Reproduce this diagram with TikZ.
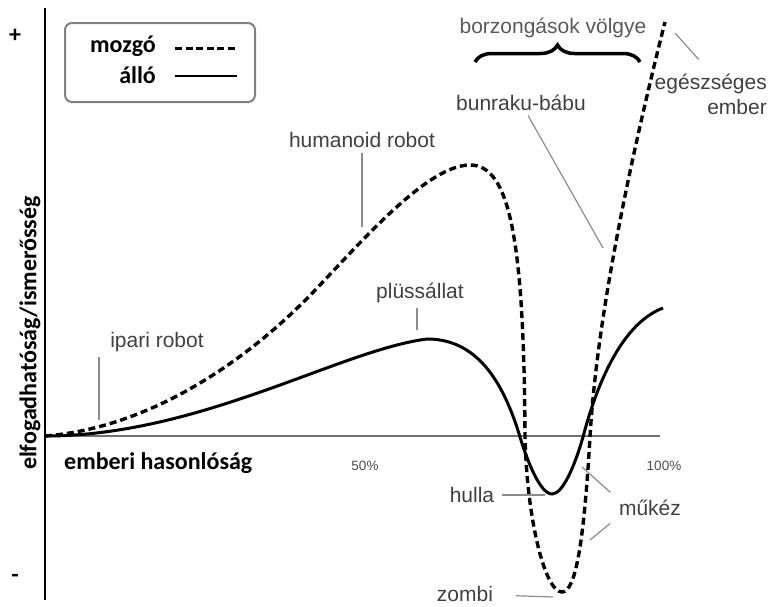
\documentclass[tikz,border=0pt]{standalone}
\usepackage{fontspec}
\setmainfont{Liberation Sans}
\newfontfamily\calibfont{Carlito}
\usetikzlibrary{positioning,decorations.pathreplacing}

\tikzset{
  lbl/.style={font=\fontsize{21}{25}\selectfont, text=black!75, inner sep=1pt},
  blbl/.style={font=\calibfont\bfseries\fontsize{24}{28}\selectfont, inner sep=1pt},
  pct/.style={font=\fontsize{13.5}{16}\selectfont, text=black!70},
  leader/.style={draw=black!45, line width=1.2pt},
  moving/.style={line width=3.4pt, dash pattern=on 7pt off 4pt},
  standing/.style={line width=3pt},
}

\begin{document}
\begin{tikzpicture}[x=1pt, y=-1pt]
\useasboundingbox (0,0) rectangle (772,606);

\coordinate (O) at (45,436);
\coordinate (ytop) at (45,8);
\coordinate (ybot) at (45,600);
\coordinate (xend) at (660,436);
\draw[line width=2.2pt] (ytop) -- (ybot);
\draw[line width=2pt, black!55] (O) -- (xend);

\node[blbl] (plus) at (15,36) {+};
\node[blbl] (minus) at (15,578) {-};
\node[blbl, rotate=90] (ylabel) at (30,333) {elfogadhatóság/ismerősség};
\node[blbl, anchor=west] (xlabel) at (63,463) {emberi hasonlóság};
\node[pct] (p50) at (365,466) {50\%};
\node[pct] (p100) at (664,466) {100\%};

% legend
\draw[black!50, line width=2pt, rounded corners=7pt] (65,23) rectangle (255,102);
\node[blbl, anchor=east] (mozgo) at (157,46) {mozgó};
\node[blbl, anchor=east] (allo) at (157,75) {álló};
\draw[moving, line width=3pt, dash pattern=on 7pt off 3.5pt] ([xshift=18pt]mozgo.east |- 0,48) -- ++(62,0);
\draw[line width=2pt] ([xshift=18pt]allo.east |- 0,76) -- ++(62,0);

% curves
\draw[standing] (O)
  .. controls (200,436) and (340,350) .. (427,339)
  .. controls (470,339) and (500,370) .. (520,437)
  .. controls (527,460) and (540,494) .. (552,494)
  .. controls (563,494) and (575,465) .. (583,437)
  .. controls (594,395) and (618,325) .. (663,308);
\draw[moving] (O)
  .. controls (150,428) and (250,360) .. (320,285)
  .. controls (370,232) and (430,165) .. (470,165)
  .. controls (510,165) and (524,240) .. (525,437)
  .. controls (527,520) and (545,592) .. (562,592)
  .. controls (576,592) and (584,540) .. (590,437)
  .. controls (596,330) and (625,180) .. (665,22);

% labels
\node[lbl] (humanoid) at (362,140) {humanoid robot};
\coordinate (humanoidpt) at (362,227);
\draw[leader, shorten <=4pt] (humanoid.south -| humanoidpt) -- (humanoidpt);

\node[lbl] (plush) at (420,293) {plüssállat};
\coordinate (plushpt) at (417,330);
\draw[leader, shorten <=4pt] (plush.south -| plushpt) -- (plushpt);

\node[lbl] (ipari) at (157,342) {ipari robot};
\coordinate (ipaript) at (99,420);
\draw[leader, shorten <=4pt] (ipari.south -| ipaript) -- (ipaript);

\node[lbl] (bunraku) at (521,103) {bunraku-bábu};
\coordinate (bunrakupt) at (603,248);
\draw[leader, shorten <=4pt] (bunraku) -- (bunrakupt);

\node[lbl, text=black!65] (valley) at (553,28) {borzongások völgye};
\coordinate (valleyL) at (475,62);
\coordinate (valleyR) at (640,62);
\draw[decorate, decoration={brace, amplitude=17pt}, line width=3.5pt] (valleyL) -- (valleyR);

\node[lbl, align=right, anchor=north east] (healthy) at (768,73) {egészséges\\ember};
\coordinate (healthypt) at (675,33);
\draw[leader, shorten <=18pt] (healthy.north) -- (healthypt);

\node[lbl] (hulla) at (472,495) {hulla};
\coordinate (hullapt) at (545,495);
\draw[leader, shorten <=7pt] (hulla) -- (hullapt);

\node[lbl] (mukez) at (650,508) {műkéz};
\coordinate (mukezup) at (582,467);
\coordinate (mukezdn) at (590,540);
\draw[leader, shorten <=10pt] (mukez.north west) -- (mukezup);
\draw[leader, shorten <=10pt] (mukez.south west) -- (mukezdn);

\node[lbl] (zombi) at (465,594) {zombi};
\coordinate (zombipt) at (553,597);
\draw[leader, shorten <=22pt] (zombi) -- (zombipt);
\end{tikzpicture}
\end{document}
